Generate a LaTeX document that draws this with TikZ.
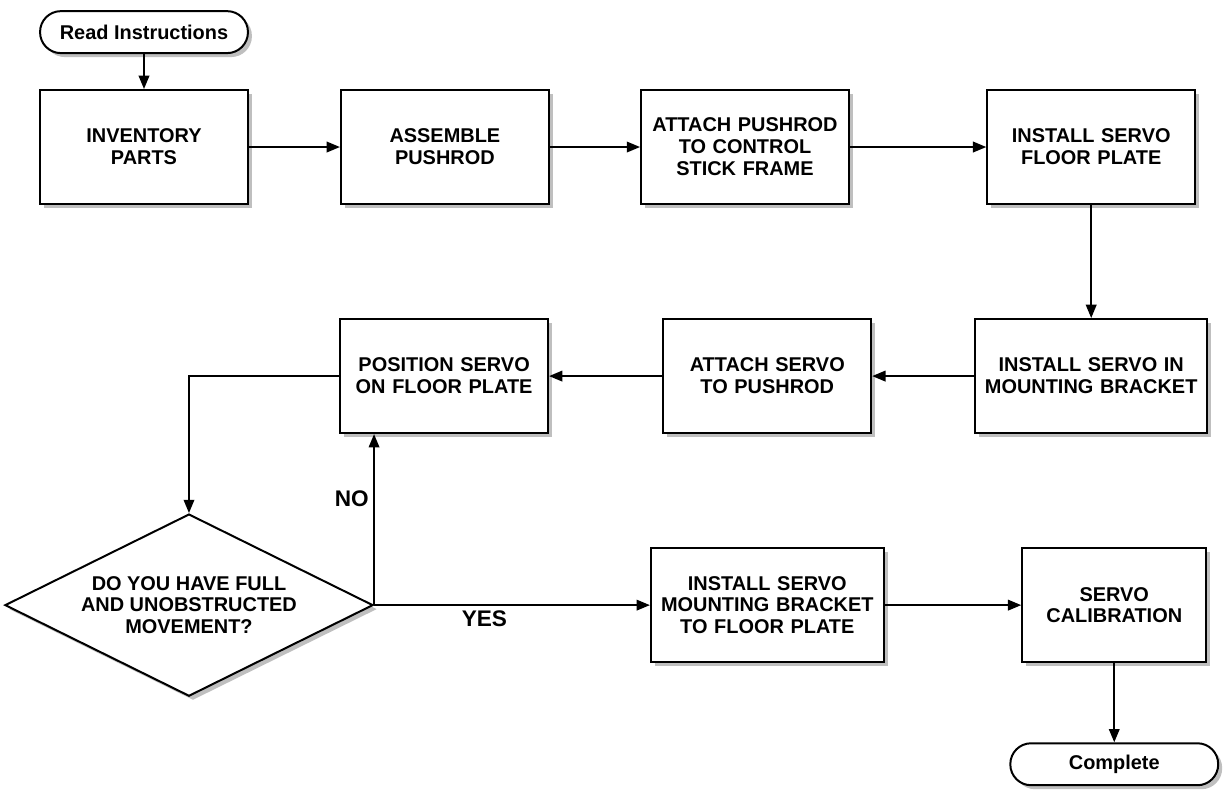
\documentclass[tikz,border=0pt]{standalone}
\usepackage{fontspec}
\setmainfont{Liberation Sans}
\usetikzlibrary{shapes.geometric,arrows.meta,shadows}
\usetikzlibrary{positioning}
\tikzstyle{boxshadow} = [drop shadow={shadow xshift=3pt,shadow yshift=-3pt,fill=black!50,opacity=0.5}]
\tikzstyle{decision} = [diamond, draw, fill=white, line width=1.5pt, aspect=2,
    text width=5.8cm, text badly centered, minimum width=9.74cm, minimum height=4.82cm,
    inner sep=0pt, font=\bfseries\fontsize{15}{16.5}\selectfont, boxshadow]
\tikzstyle{block} = [rectangle, draw, fill=white, line width=1.5pt,
    text width=5.2cm, text centered, inner sep=0.15cm, minimum height=3.02cm,
    font=\bfseries\fontsize{15}{16.5}\selectfont, boxshadow]
\tikzstyle{terminal} = [rectangle, draw, fill=white, rounded corners=0.55cm, line width=1.5pt,
    minimum width=5.5cm, minimum height=1.11cm, font=\bfseries\fontsize{15}{16.5}\selectfont, boxshadow]
\tikzstyle{answer} = [font=\bfseries\fontsize{17}{20}\selectfont]
\tikzstyle{line} = [draw, line width=1.25pt, -{Triangle[length=10pt,width=8pt]}]

\begin{document}
\begin{tikzpicture}[node distance=7.96cm,auto]
    \useasboundingbox (-3.81,3.89) rectangle (28.6,-17.04);
    % Place nodes
    \node [block] (inv) {INVENTORY\\PARTS};
    \node [terminal,node distance=3.04cm,above of=inv] (read) {Read Instructions};
    \node [block,right of=inv] (asm) {ASSEMBLE\\PUSHROD};
    \node [block,node distance=7.94cm,right of=asm] (att) {ATTACH PUSHROD\\TO CONTROL\\STICK FRAME};
    \node [block,node distance=9.16cm,right of=att] (floor) {INSTALL SERVO\\FLOOR PLATE};
    \node [block,text width=5.84cm,node distance=6.06cm,below of=floor] (mount) {INSTALL SERVO IN\\MOUNTING BRACKET};
    \node [block,node distance=8.57cm,left of=mount] (attsv) {ATTACH SERVO\\TO PUSHROD};
    \node [block,node distance=8.55cm,left of=attsv] (pos) {POSITION SERVO\\ON FLOOR PLATE};
    \node [decision,node distance=6.06cm,below of=pos,xshift=-6.75cm] (dec) {DO YOU HAVE FULL\\AND UNOBSTRUCTED\\MOVEMENT?};
    \node [block,text width=5.86cm,node distance=6.06cm,below of=attsv] (brk) {INSTALL SERVO\\MOUNTING BRACKET\\TO FLOOR PLATE};
    \node [block,text width=4.57cm,node distance=9.18cm,right of=brk] (cal) {SERVO\\CALIBRATION};
    \node [terminal,node distance=4.21cm,below of=cal] (done) {Complete};

    % Draw edges
    \path [line] (read) -- (inv);
    \path [line] (inv) -- (asm);
    \path [line] (asm) -- (att);
    \path [line] (att) -- (floor);
    \path [line] (floor) -- (mount);
    \path [line] (mount) -- (attsv);
    \path [line] (attsv) -- (pos);
    \path [line] (pos) -| (dec);
    \path [line] (dec.east) -- node [answer,left,pos=0.62] {NO} (dec.east |- pos.south);
    \path [line] (dec.east) -- node [answer,below,pos=0.4] {YES} (brk);
    \path [line] (brk) -- (cal);
    \path [line] (cal) -- (done);
\end{tikzpicture}
\end{document}
